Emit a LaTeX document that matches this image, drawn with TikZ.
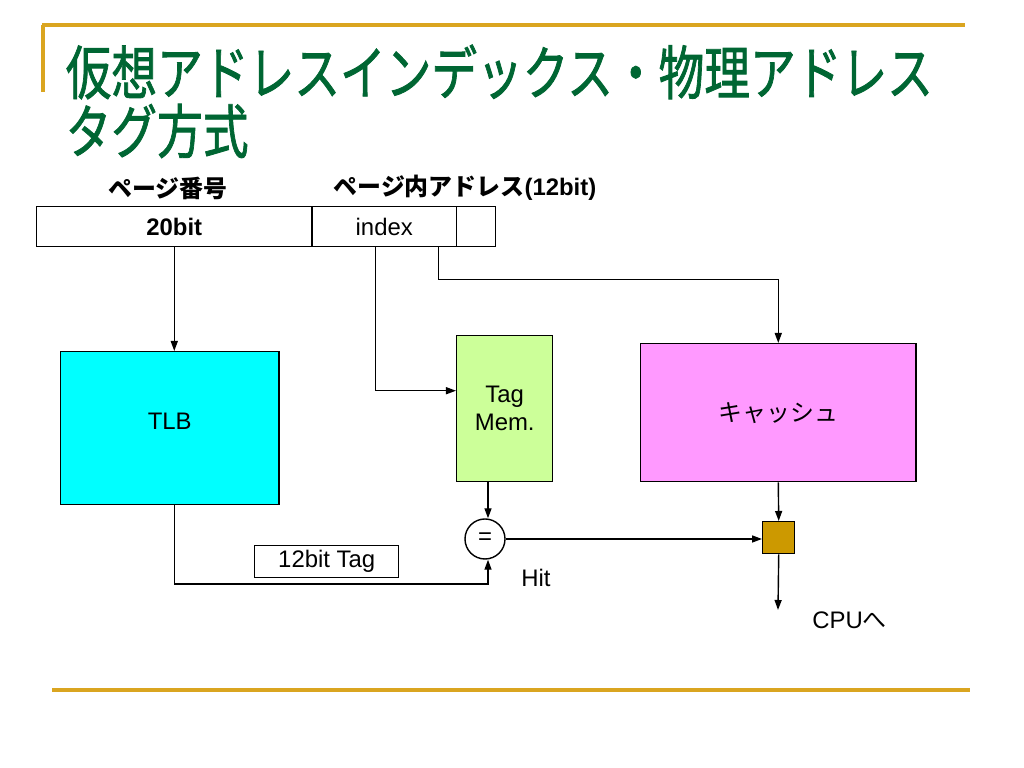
\documentclass[tikz,border=0pt]{standalone}
\usepackage{fontspec}
\setmainfont{Liberation Sans}
\newfontfamily\jp{Noto Sans CJK JP}
\newfontfamily\jptitle[FakeBold=1.5]{Noto Sans CJK JP}
\usetikzlibrary{arrows.meta}
\definecolor{titlegreen}{RGB}{0,102,51}
\definecolor{rulegold}{RGB}{218,165,32}
\definecolor{tlbcyan}{RGB}{0,255,255}
\definecolor{taggreen}{RGB}{204,255,153}
\definecolor{cachepink}{RGB}{255,153,255}
\definecolor{selgold}{RGB}{204,153,0}
\begin{document}
\begin{tikzpicture}[x=0.01cm,y=-0.01cm,
    every node/.style={font=\fontsize{6.8}{8}\selectfont},
    block/.style={draw,inner sep=0pt,anchor=north west},
    heading/.style={anchor=west,inner sep=0pt,text=titlegreen,font=\fontsize{13}{15}\selectfont\jptitle},
    conn/.style={-{Triangle[length=0.1cm,width=0.07cm]}}]
  \useasboundingbox (0,0) rectangle (1024,768);
  % frame lines
  \draw[rulegold,line width=1pt] (42,25) -- (965,25);
  \draw[rulegold,line width=1pt] (43,25) -- (43,92);
  \draw[rulegold,line width=1pt] (52,690) -- (970,690);
  % title
  \node[heading] (title1) at (65,72) {\scalebox{1}[1.28]{仮想アドレスインデックス・物理アドレス}};
  \node[heading] (title2) at (65,131) {\scalebox{1}[1.28]{タグ方式}};
  % address register
  \node[block,minimum width=2.75cm,minimum height=0.4cm] (pgno) at (36,206) {\textbf{20bit}};
  \node[block,minimum width=1.45cm,minimum height=0.4cm] (idx) at (311,206) {index};
  \node[block,minimum width=0.39cm,minimum height=0.4cm] (off) at (456,206) {};
  \node[font=\fontsize{6.8}{8}\selectfont\jp\bfseries] (pglabel) at (168,188) {ページ番号};
  \node[font=\fontsize{6.8}{8}\selectfont\jp\bfseries] (offlabel) at (465,188) {ページ内アドレス\textnormal{\bfseries\rmfamily(12bit)}};
  % blocks
  \node[block,fill=tlbcyan,minimum width=2.18cm,minimum height=1.53cm] (tlb) at (60,351) {\raisebox{0.14cm}{TLB}};
  \node[block,fill=taggreen,minimum width=0.96cm,minimum height=1.46cm,align=center] (tagm) at (456,335) {Tag\\Mem.};
  \node[block,fill=cachepink,minimum width=2.75cm,minimum height=1.38cm] (cache) at (640,343) {\jp キャッシュ};
  \node[draw,circle,minimum size=0.4cm,inner sep=0pt] (eq) at (485,539) {=};
  \node[block,fill=selgold,minimum width=0.32cm,minimum height=0.32cm] (sel) at (762,521) {};
  \node[block,minimum width=1.44cm,minimum height=0.32cm] (tagbox) at (254,545) {12bit Tag};
  \node (hit) at (536,578) {Hit};
  \node[anchor=west] (cpu) at (800,620) {CPU\jp へ};
  \coordinate (cpuend) at (778,610);
  % connectors
  \draw[conn] (pgno.south) -- (pgno.south |- tlb.north);
  \draw[conn] ([xshift=-0.085cm]idx.south) |- ([yshift=0.18cm]tagm.west);
  \draw[conn] ([xshift=0.545cm]idx.south) -- ++(0,32) -| (cache.north);
  \draw[conn] ([xshift=0.03cm]eq.north |- tagm.south) -- ([xshift=0.03cm]eq.north);
  \draw[conn] ([xshift=0.05cm]tlb.south) |- ([xshift=0.03cm]eq.south |- 0,584) -- ([xshift=0.03cm]eq.south);
  \draw[conn] (eq.east) -- (eq.east -| sel.west);
  \draw[conn] (cache.south) -- (sel.north);
  \draw[conn] (sel.south) -- (cpuend);
\end{tikzpicture}
\end{document}
